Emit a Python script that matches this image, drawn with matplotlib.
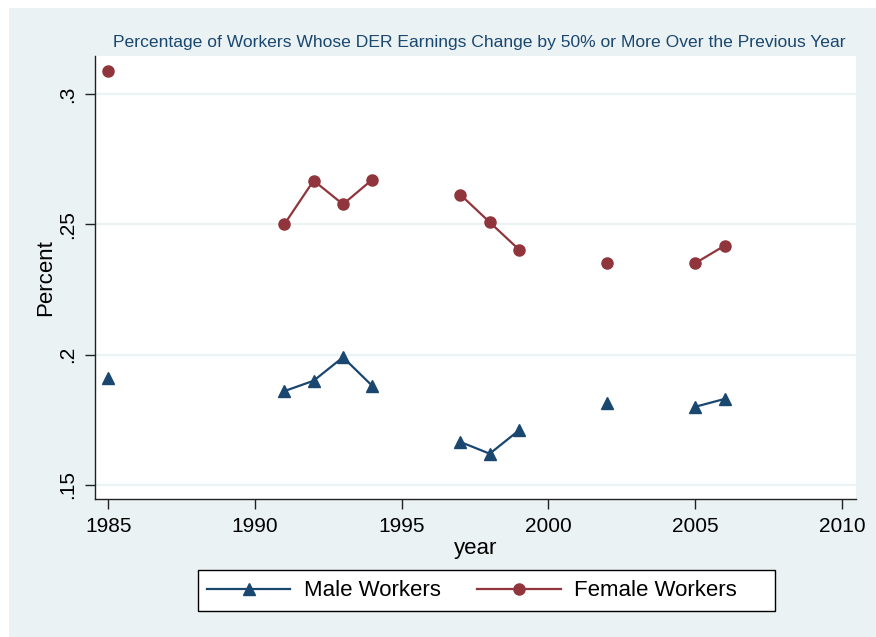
import numpy as np
import matplotlib
matplotlib.use("Agg")
import matplotlib.pyplot as plt
from matplotlib.patches import Rectangle
from matplotlib.lines import Line2D

plt.rcParams['font.family'] = ['Liberation Sans', 'DejaVu Sans']

years = list(range(1985, 2007))
nan = np.nan
male = [0.191, nan, nan, nan, nan, nan, 0.186, 0.190, 0.199, 0.188, nan, nan,
        0.1665, 0.162, 0.171, nan, nan, 0.1815, nan, nan, 0.180, 0.183]
female = [0.309, nan, nan, nan, nan, nan, 0.250, 0.2668, 0.2577, 0.2672, nan, nan,
          0.2614, 0.2508, 0.2403, nan, nan, 0.2351, nan, nan, 0.2351, 0.2418]
xticks = [1985, 1990, 1995, 2000, 2005, 2010]
yticks = [0.15, 0.20, 0.25, 0.30]
yticklabels = ['.15', '.2', '.25', '.3']
title = "Percentage of Workers Whose DER Earnings Change by 50% or More Over the Previous Year"

W, H = 876, 637
fig = plt.figure(figsize=(W / 100, H / 100), dpi=100)
fig.patch.set_facecolor('white')
bg = '#EAF2F3'
fig.patches.append(Rectangle((9 / W, 0), 1, 1 - 8 / H, transform=fig.transFigure,
                             facecolor=bg, edgecolor='none', zorder=-10))

l, r, t, b = 94.7, 856, 56, 499.3
ax = fig.add_axes([l / W, 1 - b / H, (r - l) / W, (b - t) / H])
ax.set_facecolor('white')

navy = '#1a476f'
maroon = '#90353b'
ax.plot(years, male, color=navy, lw=1.6, marker='^', ms=9, mec=navy, mfc=navy,
        label='Male Workers', zorder=3)
ax.plot(years, female, color=maroon, lw=1.6, marker='o', ms=8, mec=maroon, mfc=maroon,
        label='Female Workers', zorder=3)

ax.set_xlim(1984.54, 2010.48)
ax.set_ylim(0.1445, 0.3146)
ax.set_xticks(xticks)
ax.set_xticklabels([str(x) for x in xticks])
ax.set_yticks(yticks)
ax.set_yticklabels(yticklabels, rotation=90, va='center')
ax.grid(axis='y', color=bg, lw=1.6, zorder=0)
for s in ['top', 'right']:
    ax.spines[s].set_visible(False)
for s in ['left', 'bottom']:
    ax.spines[s].set_color('#222222')
    ax.spines[s].set_linewidth(1.0)
ax.tick_params(axis='both', direction='out', length=7, width=1.0, color='#222222',
               labelsize=15, pad=6, labelcolor='black')
ax.set_xlabel('year', fontsize=16, labelpad=1)
ax.set_ylabel('Percent', fontsize=16, labelpad=1)

fig.text(479 / W, 1 - 43 / H, title, ha='center', va='center', fontsize=12.6, color=navy)

# legend frame
x0, x1, y0, y1 = 198, 775, 570, 611
fig.patches.append(Rectangle((x0 / W, 1 - y1 / H), (x1 - x0) / W, (y1 - y0) / H,
                             transform=fig.transFigure, facecolor='white',
                             edgecolor='black', lw=1.0, zorder=1))
leg = fig.legend(handles=[Line2D([], [], color=navy, lw=1.6, marker='^', ms=9),
                          Line2D([], [], color=maroon, lw=1.6, marker='o', ms=8)],
                 labels=['Male Workers', 'Female Workers'], ncol=2,
                 loc='center left', bbox_to_anchor=(207 / W, 1 - 591 / H),
                 fontsize=16, frameon=False, borderpad=0, borderaxespad=0,
                 handlelength=3.75, handletextpad=0.6, columnspacing=1.65)
leg.set_zorder(2)

fig.savefig('out.png', dpi=100, facecolor=fig.get_facecolor())
